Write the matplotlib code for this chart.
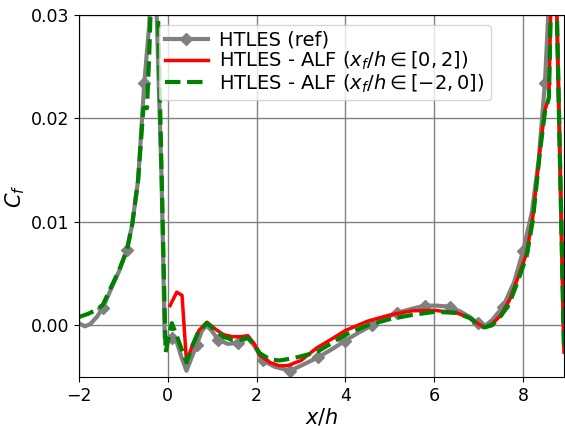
import matplotlib
matplotlib.use("Agg")
import numpy as np
import matplotlib.pyplot as plt

# HTLES reference
ref_x = [-2.00, -1.87, -1.75, -1.60, -1.46, -1.30, -1.10, -0.92, -0.80, -0.67,
         -0.53, -0.42, -0.32, -0.25, -0.14, -0.07, 0.09, 0.20, 0.30, 0.42,
         0.52, 0.65, 0.76, 0.87, 1.00, 1.13, 1.35, 1.58, 1.80, 1.95,
         2.14, 2.40, 2.75, 3.05, 3.38, 3.70, 3.99, 4.30, 4.60, 4.90,
         5.16, 5.50, 5.79, 6.05, 6.35, 6.60, 6.80, 6.98, 7.10, 7.30,
         7.55, 7.80, 8.00, 8.20, 8.35, 8.49, 8.60, 8.68, 8.76, 8.92]
ref_cf = [0.0002, -0.0001, 0.0001, 0.0008, 0.0017, 0.0033, 0.0052, 0.0073, 0.0098, 0.0140,
          0.0234, 0.0290, 0.0400, 0.0300, 0.0140, -0.0012, -0.0012, -0.0016, -0.0030, -0.0044,
          -0.0033, -0.0019, -0.0006, 0.0000, -0.0006, -0.0014, -0.0018, -0.0017, -0.0012, -0.0020,
          -0.0034, -0.0040, -0.0044, -0.0038, -0.0031, -0.0023, -0.0015, -0.0007, 0.0000, 0.0007,
          0.0012, 0.0016, 0.0019, 0.0019, 0.0018, 0.0013, 0.0008, 0.0002, -0.0002, 0.0005,
          0.0018, 0.0042, 0.0072, 0.0110, 0.0160, 0.0234, 0.0330, 0.0420, 0.0300, -0.0020]
ref_marks = [-1.46, -0.92, -0.53, 0.09, 0.65, 1.13, 1.58, 2.14, 2.75, 3.38,
             3.99, 4.60, 5.16, 5.79, 6.35, 6.98, 7.55, 8.00, 8.49]

# ALF, x_f/h in [0, 2]
alf02_x = [0.05, 0.20, 0.32, 0.42, 0.55, 0.70, 0.88, 1.05, 1.25, 1.45,
           1.65, 1.80, 1.95, 2.07, 2.30, 2.50, 2.70, 3.00, 3.35, 3.70,
           4.00, 4.50, 5.00, 5.50, 6.00, 6.50, 6.80, 7.00, 7.14, 7.30,
           7.50, 7.70, 7.90, 8.08, 8.22, 8.38, 8.49, 8.58, 8.62, 8.68,
           8.76, 8.92]
alf02_cf = [0.0019, 0.0032, 0.0029, -0.0035, -0.0020, -0.0005, 0.0003, -0.0003, -0.0009, -0.0011,
            -0.0011, -0.0010, -0.0018, -0.0029, -0.0036, -0.0039, -0.0039, -0.0034, -0.0022, -0.0013,
            -0.0005, 0.0004, 0.0010, 0.0014, 0.00145, 0.0012, 0.0007, 0.0001, -0.0002, 0.0001,
            0.0010, 0.0025, 0.0048, 0.0070, 0.0105, 0.0170, 0.0208, 0.0220, 0.0300, 0.0420,
            0.0300, -0.0026]

# ALF, x_f/h in [-2, 0]
alf20_x = [-2.00, -1.80, -1.60, -1.46, -1.30, -1.10, -0.92, -0.80, -0.67, -0.55,
           -0.47, -0.42, -0.30, -0.22, -0.05, 0.09, 0.20, 0.42, 0.55, 0.70,
           0.88, 1.05, 1.25, 1.45, 1.65, 1.80, 1.95, 2.07, 2.30, 2.52,
           2.80, 3.00, 3.35, 3.70, 4.00, 4.50, 5.00, 5.50, 6.00, 6.50,
           6.80, 7.00, 7.14, 7.30, 7.50, 7.70, 7.90, 8.08, 8.22, 8.38,
           8.49, 8.58, 8.62, 8.68, 8.76, 8.92]
alf20_cf = [0.0008, 0.0011, 0.0015, 0.0020, 0.0035, 0.0053, 0.0073, 0.0098, 0.0140, 0.0210,
            0.0210, 0.0260, 0.0420, 0.0300, -0.0026, 0.0002, -0.0010, -0.0036, -0.0020, -0.0005,
            0.0002, -0.0004, -0.0011, -0.0014, -0.0014, -0.0012, -0.0019, -0.0027, -0.0033, -0.0034,
            -0.0032, -0.0030, -0.0026, -0.0017, -0.0009, 0.0000, 0.0006, 0.0010, 0.0013, 0.0012,
            0.0007, 0.0000, -0.0002, 0.0000, 0.0009, 0.0022, 0.0045, 0.0067, 0.0102, 0.0168,
            0.0206, 0.0220, 0.0300, 0.0420, 0.0300, -0.0026]


def main() -> None:
    fig = plt.figure(figsize=(5.65, 4.26), dpi=100)
    ax = fig.add_axes([79 / 565, 1 - 377 / 426, (564 - 79) / 565, (377 - 15) / 426])

    marks = [ref_x.index(v) for v in ref_marks]
    ax.plot(ref_x, ref_cf, color="gray", lw=3, marker="D", ms=6.5,
            markevery=marks, label="HTLES (ref)")
    ax.plot(alf02_x, alf02_cf, color="red", lw=2.5,
            label=r"HTLES - ALF ($x_f/h \in [0,2]$)")
    ax.plot(alf20_x, alf20_cf, "--", color="green", lw=3,
            label=r"HTLES - ALF ($x_f/h \in [-2,0]$)")

    ax.set_xlim(-2, 8.92)
    ax.set_ylim(-0.005, 0.03)
    ax.set_xticks([-2, 0, 2, 4, 6, 8])
    ax.set_yticks([0.0, 0.01, 0.02, 0.03])
    ax.tick_params(labelsize=12.5)
    ax.grid(True, color="gray", lw=1)
    ax.set_xlabel(r"$x/h$", fontsize=15, labelpad=1)
    ax.set_ylabel(r"$C_f$", fontsize=15)
    ax.yaxis.set_label_coords(-0.108, 0.5)
    ax.legend(fontsize=14, loc="upper left", bbox_to_anchor=(0.165, 0.972),
              borderaxespad=0, labelspacing=0.0, handlelength=2.2,
              handletextpad=0.6, borderpad=0.3)

    fig.savefig("out.png", dpi=100)


if __name__ == "__main__":
    main()
